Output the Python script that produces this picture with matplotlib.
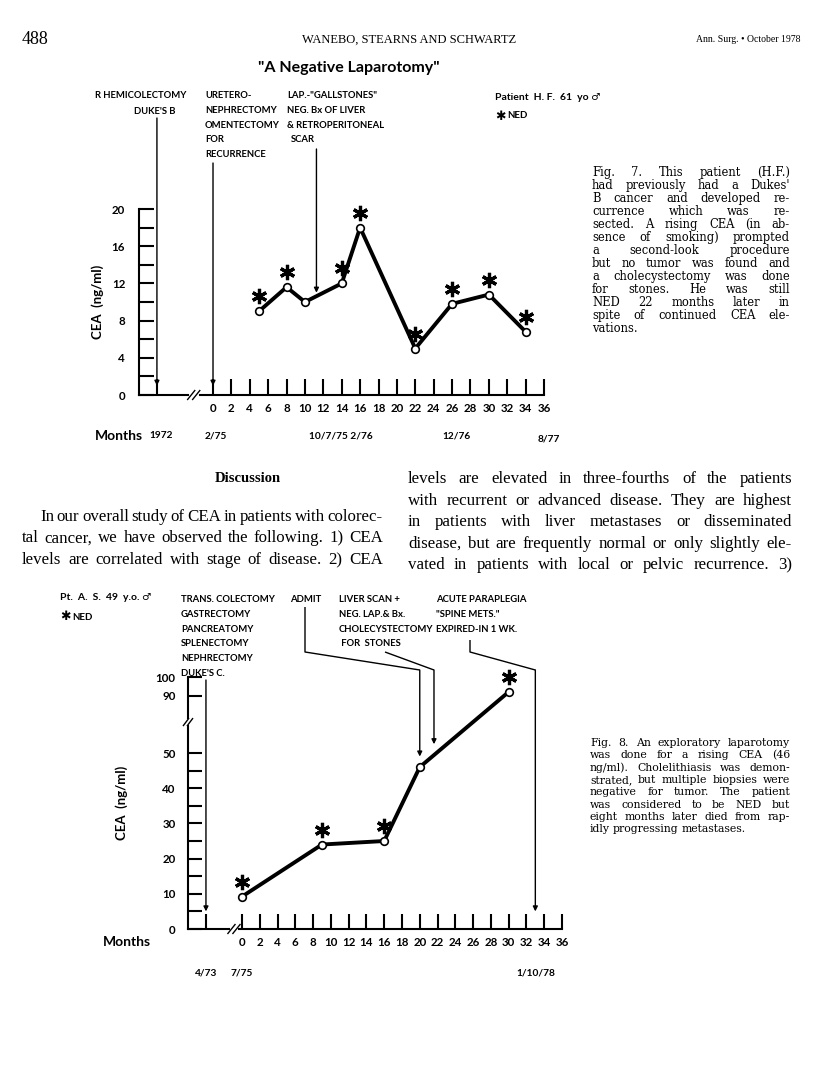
import numpy as np
import matplotlib
matplotlib.use("Agg")
import matplotlib.pyplot as plt
from matplotlib.lines import Line2D
from matplotlib.patches import FancyArrowPatch
from matplotlib.transforms import ScaledTranslation

# ---------------- data ----------------
fig7_months = [5, 8, 10, 14, 16, 22, 26, 30, 34]
fig7_cea = [9.0, 11.6, 10.0, 12.0, 18.0, 5.0, 9.8, 10.8, 6.8]
fig7_ned = [True, True, False, True, True, True, True, True, True]
fig7_xticks = list(range(0, 37, 2))
fig7_yticks = list(range(0, 21, 2))
fig7_ylabels = [str(v) if v % 4 == 0 else "" for v in fig7_yticks]
fig7_event_months = [-6.1, 0, 11.25]          # 1972 op, 2/75 op, lap.

fig8_months = [0, 9, 16, 20, 30]
fig8_cea = [9.2, 24, 25, 46, 92]
fig8_ned = [True, True, True, False, True]
fig8_xticks = list(range(0, 37, 2))
fig8_yticks = [0, 5, 10, 15, 20, 25, 30, 35, 40, 45, 50, 90, 100]
fig8_ylabels = [str(v) if v % 10 == 0 else "" for v in fig8_yticks]
fig8_event_months = [-4.05, 20, 21.6, 33.0]   # colectomy, admit, liver scan, paraplegia

caption7 = ["Fig. 7. This patient (H.F.)",
            "had previously had a Dukes'",
            "B cancer and developed re-",
            "currence which was re-",
            "sected. A rising CEA (in ab-",
            "sence of smoking) prompted",
            "a second-look procedure",
            "but no tumor was found and",
            "a cholecystectomy was done",
            "for stones. He was still",
            "NED 22 months later in",
            "spite of continued CEA ele-",
            "vations."]
caption8 = ["Fig. 8. An exploratory laparotomy",
            "was done for a rising CEA (46",
            "ng/ml). Cholelithiasis was demon-",
            "strated, but multiple biopsies were",
            "negative for tumor. The patient",
            "was considered to be NED but",
            "eight months later died from rap-",
            "idly progressing metastases."]
body_left = ["In our overall study of CEA in patients with colorec-",
             "tal cancer, we have observed the following. 1) CEA",
             "levels are correlated with stage of disease. 2) CEA"]
body_right = ["levels are elevated in three-fourths of the patients",
              "with recurrent or advanced disease. They are highest",
              "in patients with liver metastases or disseminated",
              "disease, but are frequently normal or only slightly ele-",
              "vated in patients with local or pelvic recurrence. 3)"]

# ---------------- figure helpers ----------------
W, H, DPI = 816, 1081, 100
fig = plt.figure(figsize=(W / DPI, H / DPI), dpi=DPI)
fig.patch.set_facecolor("white")
renderer = fig.canvas.get_renderer()

SANS = ["Lato", "DejaVu Sans"]
SERIF = ["Liberation Serif", "DejaVu Serif"]
CAPSERIF = ["DejaVu Serif"]


def fx(x):
    return x / W


def fy(y):
    return 1 - y / H


def ftext(x, y, s, size=6.8, weight="bold", family=SANS, ha="left", va="center", **kw):
    return fig.text(fx(x), fy(y), s, fontsize=size, fontweight=weight,
                    family=family, ha=ha, va=va, **kw)


def fline(xs, ys, lw=1.0, color="black", **kw):
    fig.add_artist(Line2D([fx(x) for x in xs], [fy(y) for y in ys],
                          transform=fig.transFigure, color=color, lw=lw,
                          solid_capstyle="butt", **kw))


def farrow(x0, y0, x1, y1, lw=1.0):
    fig.add_artist(FancyArrowPatch((fx(x0), fy(y0)), (fx(x1), fy(y1)),
                                   transform=fig.transFigure, arrowstyle="-|>",
                                   mutation_scale=7, lw=lw, color="black",
                                   shrinkA=0, shrinkB=0))


def d2p(ax, x, y):
    X, Y = ax.transData.transform((x, y))
    return X, H - Y


def text_line(s, x0, x1, yb, size, justify=True, weight="normal", family=SERIF,
              min_gap=2.5):
    words = s.split(" ")
    while True:
        ts = [fig.text(0, fy(yb), w, fontsize=size, family=family, fontweight=weight,
                       ha="left", va="baseline") for w in words]
        ws = [t.get_window_extent(renderer=renderer).width for t in ts]
        if justify and len(words) > 1:
            gap = (x1 - x0 - sum(ws)) / (len(words) - 1)
        else:
            gap = size * DPI / 72 * 0.28
        if gap >= min_gap or size < 6:
            break
        for t in ts:
            t.remove()
        size -= 0.2
    x = x0
    for t, w in zip(ts, ws):
        t.set_x(fx(x))
        x += w + gap


def slashes(xc, yc, dx=4, dy=5, sep=5, lw=1.0):
    for k in (-0.5, 0.5):
        cx = xc + k * sep
        fline([cx - dx, cx + dx], [yc + dy, yc - dy], lw=lw)


def sel(vals, flags):
    return [v for v, f in zip(vals, flags) if f]


# ---------------- header ----------------
ftext(22, 40, "488", size=13, weight="normal", family=SERIF)
ftext(409, 40, "WANEBO, STEARNS AND SCHWARTZ", size=9, weight="normal",
      family=SERIF, ha="center")
ftext(800, 40, "Ann. Surg. \u2022 October 1978", size=7, weight="normal",
      family=SERIF, ha="right")

# ---------------- Figure 7 ----------------
ftext(349, 68, "\"A Negative Laparotomy\"", size=11.5, ha="center")

ax7 = fig.add_axes([fx(139), fy(395), (544 - 139) / W, (395 - 209) / H])
ax7.set_xlim(-8.05, 36)
ax7.set_ylim(0, 20)
ax7.patch.set_visible(False)
for s in ("top", "right", "bottom"):
    ax7.spines[s].set_visible(False)
ax7.spines["left"].set_linewidth(1.5)
ax7.set_yticks(fig7_yticks)
ax7.set_yticklabels(fig7_ylabels, fontweight="bold", family=SANS, fontsize=8.3)
ax7.set_xticks([fig7_event_months[0]] + fig7_xticks)
ax7.set_xticklabels([""] + [str(v) for v in fig7_xticks], fontweight="bold",
                    family=SANS, fontsize=8.3)
ax7.tick_params(axis="y", direction="in", length=11, width=1.5, pad=10)
ax7.tick_params(axis="x", direction="in", length=11.5, width=1.5, pad=6)
ax7.plot([-8.05, -2.75], [0, 0], color="black", lw=1.5, clip_on=False)
ax7.plot([-1.45, 36], [0, 0], color="black", lw=1.5, clip_on=False)
bx, by = d2p(ax7, -2.1, 0)
slashes(bx, by)

ax7.plot(fig7_months, fig7_cea, color="black", lw=2.8, marker="o", ms=5.5,
         mfc="white", mec="black", mew=1.2, clip_on=False, zorder=3)
star_off = ScaledTranslation(0, 0.15, fig.dpi_scale_trans)
ax7.plot(sel(fig7_months, fig7_ned), sel(fig7_cea, fig7_ned), ls="none",
         marker=(6, 2, 0), ms=11, mew=2.3, color="black",
         transform=ax7.transData + star_off, clip_on=False)

ftext(98, 302, "CEA  (ng/ml)", size=9.5, rotation=90, ha="center")

# annotations
ftext(95, 96, "R HEMICOLECTOMY")
ftext(155, 112, "DUKE'S B", ha="center")
for i, s in enumerate(["URETERO-", "NEPHRECTOMY", "OMENTECTOMY", "FOR", "RECURRENCE"]):
    ftext(205, 96 + i * 14.6, s)
for i, s in enumerate(["LAP.-\"GALLSTONES\"", "NEG. Bx OF LIVER",
                       "& RETROPERITONEAL", "SCAR"]):
    ftext(287 + (4 if s == "SCAR" else 0), 96 + i * 14.6, s)
ftext(495, 98, "Patient  H. F.  61  yo \u2642", size=7.5)
ftext(495, 116, "\u2731", size=9, weight="normal", family=["DejaVu Sans"])
ftext(507, 116, "NED", size=7)

tops7 = [118, 163, 149]
tips7 = [1.0, 1.0, 11.0]
for m, top, tv in zip(fig7_event_months, tops7, tips7):
    x, ytip = d2p(ax7, m, tv)
    farrow(x, top, x, ytip)

ftext(95, 436, "Months", size=10)
ftext(161, 436, "1972", ha="center", size=7.3)
ftext(216, 436, "2/75", ha="center", size=7.3)
ftext(341, 436, "10/7/75 2/76", ha="center", size=7.3)
ftext(457, 436, "12/76", ha="center", size=7.3)
ftext(549, 439, "8/77", ha="center", size=7.3)

# caption 7
for i, s in enumerate(caption7):
    text_line(s, 592, 790, 176 + i * 13.0, 8.3, family=CAPSERIF,
              justify=(i < len(caption7) - 1))

# ---------------- Discussion ----------------
ftext(248, 478, "Discussion", size=10.5, weight="bold", family=SERIF, ha="center")
for i, s in enumerate(body_left):
    text_line(s, 40 if i == 0 else 22, 383, 521 + i * 21.5, 12.2)
for i, s in enumerate(body_right):
    text_line(s, 408, 792, 483 + i * 21.6, 12.2)

# ---------------- Figure 8 ----------------
brk_v = [0, 58, 90, 100]
brk_p = [0, 58, 66.3, 71.6]


def fwd(v):
    return np.interp(v, brk_v, brk_p)


def inv(p):
    return np.interp(p, brk_p, brk_v)


ax8 = fig.add_axes([fx(188), fy(929), (562 - 188) / W, 252 / H])
ax8.set_yscale("function", functions=(fwd, inv))
ax8.set_xlim(-6.07, 36)
ax8.set_ylim(0, 100)
ax8.patch.set_visible(False)
for s in ("top", "right", "bottom", "left"):
    ax8.spines[s].set_visible(False)
ax8.set_yticks(fig8_yticks)
ax8.set_yticklabels(fig8_ylabels, fontweight="bold", family=SANS, fontsize=8.3)
ax8.yaxis.set_minor_locator(matplotlib.ticker.NullLocator())
ax8.set_xticks([fig8_event_months[0]] + fig8_xticks)
ax8.set_xticklabels([""] + [str(v) for v in fig8_xticks], fontweight="bold",
                    family=SANS, fontsize=8.3)
ax8.tick_params(axis="y", direction="in", length=10, width=1.5, pad=9)
ax8.tick_params(axis="x", direction="in", length=10.5, width=1.5, pad=6)
# axes lines
ax8.plot([-6.07, -6.07], [0, 100], color="black", lw=1.5, clip_on=False)
ax8.plot([-6.07, -1.5], [0, 0], color="black", lw=1.5, clip_on=False)
ax8.plot([-0.3, 36], [0, 0], color="black", lw=1.5, clip_on=False)
bx, by = d2p(ax8, -0.9, 0)
slashes(bx, by)
ax_x, brk_y = d2p(ax8, -6.07, inv(58.8))
fline([ax_x, ax_x], [brk_y - 3, brk_y + 3], lw=3, color="white")
slashes(ax_x, brk_y, dx=3, dy=4, sep=4)

ax8.plot(fig8_months, fig8_cea, color="black", lw=2.8, marker="o", ms=5.5,
         mfc="white", mec="black", mew=1.2, clip_on=False, zorder=3)
ax8.plot(sel(fig8_months, fig8_ned), sel(fig8_cea, fig8_ned), ls="none",
         marker=(6, 2, 0), ms=11, mew=2.3, color="black",
         transform=ax8.transData + star_off, clip_on=False)

ftext(122, 803, "CEA  (ng/ml)", size=9.5, rotation=90, ha="center")

ftext(60, 597, "Pt.  A.  S.  49  y.o. \u2642", size=7.5)
ftext(60, 617, "\u2731", size=9, weight="normal", family=["DejaVu Sans"])
ftext(72, 617, "NED", size=7)
for i, s in enumerate(["TRANS. COLECTOMY", "GASTRECTOMY", "PANCREATOMY",
                       "SPLENECTOMY", "NEPHRECTOMY", "DUKE'S C."]):
    ftext(181, 600 + i * 14.6, s)
ftext(290, 600, "ADMIT")
for i, s in enumerate(["LIVER SCAN +", "NEG. LAP.& Bx.", "CHOLECYSTECTOMY",
                       " FOR  STONES"]):
    ftext(339, 600 + i * 14.6, s)
for i, s in enumerate(["ACUTE PARAPLEGIA", "\"SPINE METS.\"", "EXPIRED-IN 1 WK."]):
    ftext(436, 600 + i * 14.6, s)

# event arrows for fig 8
x0, tip0 = d2p(ax8, fig8_event_months[0], 5.0)
farrow(x0, 680, x0, tip0)
xa, tipa = d2p(ax8, fig8_event_months[1], 49.0)
fline([305, 305, xa], [607, 652, 670])
farrow(xa, 670, xa, tipa)
xl, tipl = d2p(ax8, fig8_event_months[2], 52.5)
fline([385, xl], [652, 670])
farrow(xl, 670, xl, tipl)
xp, tipp = d2p(ax8, fig8_event_months[3], 5.0)
fline([470, 470, xp], [640, 652, 670])
farrow(xp, 670, xp, tipp)

ftext(103, 942, "Months", size=10)
dx0, _ = d2p(ax8, fig8_event_months[0], 0)
dx1, _ = d2p(ax8, 0, 0)
dx2, _ = d2p(ax8, fig8_event_months[3], 0)
ftext(dx0, 973, "4/73", ha="center", size=7.3)
ftext(dx1, 973, "7/75", ha="center", size=7.3)
ftext(dx2, 973, "1/10/78", ha="center", size=7.3)

for i, s in enumerate(caption8):
    text_line(s, 590, 790, 746 + i * 12.3, 7.8, family=CAPSERIF,
              justify=(i < len(caption8) - 1))

fig.savefig("out.png", dpi=DPI, facecolor="white")
